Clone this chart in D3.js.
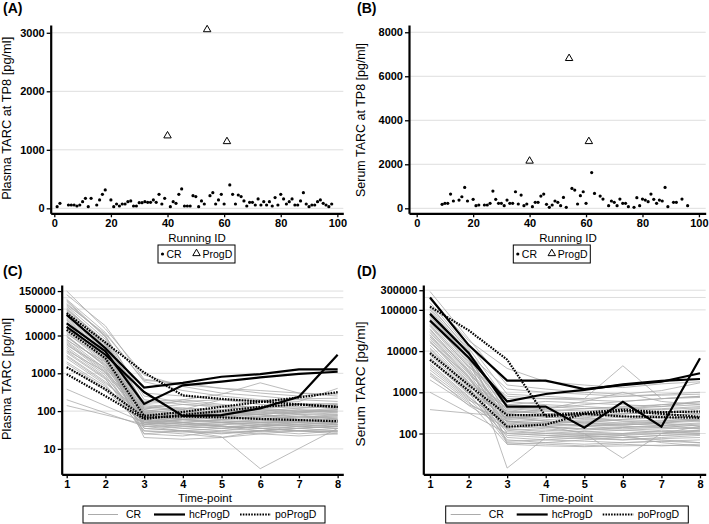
<!DOCTYPE html>
<html><head><meta charset="utf-8">
<script src="https://cdn.jsdelivr.net/npm/d3@7"></script>
<style>body{margin:0;background:#fff}svg{display:block}</style>
</head><body><svg id="c" width="709" height="524"></svg>
<script>
// ---------- DATA ----------
// Panel A: plasma TARC at TP8 by running ID
const plasmaCR = [[1,29],[2,86],[5,57],[6,57],[7,57],[8,40],[9,57],[10,114],[11,171],[12,29],[13,171],[15,57],[16,143],[17,240],[18,314],[20,143],[21,29],[22,74],[23,40],[24,74],[25,74],[26,114],[27,126],[28,40],[29,40],[30,97],[31,97],[32,114],[33,103],[34,103],[35,143],[36,103],[37,240],[38,74],[39,171],[41,29],[42,114],[43,86],[44,240],[45,331],[46,40],[47,40],[48,40],[49,217],[50,200],[51,29],[52,126],[53,74],[55,217],[56,268],[57,74],[58,143],[59,240],[60,74],[62,400],[63,240],[64,74],[65,228],[66,200],[67,126],[68,40],[69,103],[70,103],[71,57],[72,160],[73,57],[74,114],[75,57],[76,114],[77,40],[78,183],[79,57],[80,240],[81,160],[82,74],[83,114],[84,160],[85,57],[86,57],[87,126],[88,268],[89,74],[90,29],[91,57],[92,57],[93,114],[94,143],[95,86],[96,57],[97,29],[98,74]];
const plasmaProgD = [[40,1240],[54,3055],[61,1142]];
// Panel B: serum TARC at TP8 by running ID
const serumCR = [[9,180],[10,226],[11,226],[12,647],[13,331],[15,376],[16,526],[17,948],[18,331],[20,406],[21,120],[22,150],[24,150],[25,150],[26,226],[27,782],[28,406],[29,226],[30,226],[31,120],[32,376],[33,226],[34,226],[35,752],[36,196],[37,602],[38,120],[39,196],[41,75],[42,271],[43,271],[44,556],[45,647],[46,180],[47,45],[48,150],[49,331],[50,271],[51,120],[52,496],[53,45],[55,902],[56,827],[57,196],[58,572],[59,752],[60,226],[62,1624],[63,677],[65,556],[66,421],[68,120],[69,331],[70,271],[71,120],[72,421],[73,226],[74,226],[75,75],[77,45],[78,481],[79,120],[80,421],[81,376],[82,301],[83,647],[84,406],[85,226],[86,376],[87,331],[88,948],[89,75],[91,271],[92,271],[94,421],[96,120]];
const serumProgD = [[40,2150],[54,6813],[61,3038]];

const timePoints = [1,2,3,4,5,6,7,8];
const idTicks = [0,20,40,60,80,100];
const plasmaTP8Ticks = [0,1000,2000,3000];
const serumTP8Ticks = [0,2000,4000,6000,8000];
const plasmaLogTicks = [10,100,1000,10000,50000,150000];
const plasmaLogGrid = [10,100,1000,10000,50000,100000,150000];
const serumLogTicks = [100,1000,10000,100000,300000];
const serumLogGrid = [100,1000,10000,100000,200000,300000];

// Panel C: plasma TARC courses (TP1..TP8), null = missing
const plasmaCRLines = [
[150000,15000,900,450,300,250,200,180],
[90000,12000,600,350,250,200,180,400],
[80000,9000,150,120,100,90,110,100],
[70000,10000,200,150,130,110,100,90],
[60000,8000,120,100,90,80,70,80],
[55000,6000,90,70,60,70,80,60],
[50000,7000,110,80,70,60,55,50],
[45000,5000,80,60,50,55,60,45],
[40000,6000,140,100,80,70,90,110],
[38000,4500,70,60,55,50,45,40],
[35000,5000,100,90,80,100,120,130],
[30000,4000,60,50,45,40,50,55],
[28000,3500,85,75,70,65,60,70],
[25000,3000,50,45,40,35,40,35],
[22000,3800,130,110,90,120,150,140],
[20000,2500,65,70,80,60,55,65],
[18000,2800,75,60,50,45,55,60],
[16000,2200,45,40,35,30,35,30],
[15000,3000,95,80,100,110,90,100],
[13000,2000,55,50,60,70,65,75],
[12000,1800,40,35,30,28,30,25],
[11000,2400,120,150,130,100,80,90],
[10000,1500,60,55,50,45,40,45],
[9000,1700,80,70,90,80,100,120],
[8000,1300,50,60,55,50,50,55],
[7500,2000,180,200,150,120,100,110],
[7000,1200,45,50,40,35,30,35],
[6000,1000,70,60,80,90,85,80],
[5500,1400,100,120,110,130,120,150],
[5000,900,35,30,25,30,35,40],
[4500,800,55,45,50,40,45,50],
[4000,1100,90,110,200,150,130,120],
[3500,700,40,40,45,50,55,60],
[3000,600,65,80,70,60,70,65],
[2500,500,30,25,20,25,30,28],
[2000,450,50,45,40,35,30,30],
[1800,400,75,90,100,80,70,75],
[1500,350,45,60,70,80,60,50],
[380,null,50,40,35,45,40,35],
[200,null,40,30,35,40,45,50],
[140,null,45,35,40,30,35,40],
[120000,18000,700,500,400,300,250,300],
[65000,11000,650,550,400,350,300,250],
[33000,4200,300,250,200,180,160,150],
[26000,3200,20,18,20,30,25,30],
[14000,2600,25,30,21,3,null,35],
[9500,1600,110,200,280,560,300,280],
[48000,6500,160,180,200,190,210,220],
[42000,5500,35,30,28,25,22,25],
[21000,2300,55,65,75,85,95,100],
[17000,2100,70,50,40,35,30,28],
[85000,9500,250,170,140,130,150,160],
[6500,1100,30,28,26,30,40,45],
[3800,750,25,22,30,40,35,40],
[2800,550,85,70,60,55,50,45]
];
const plasmaHcLines = [
[35000,4600,420,560,810,950,1270,1270],
[21000,3800,155,480,600,780,960,1100],
[17000,3100,320,75,78,118,240,3100]
];
const plasmaPoLines = [
[39000,6500,1050,260,210,180,150,128],
[14000,2500,75,95,130,175,230,316],
[1450,380,68,72,68,62,58,54],
[950,250,62,80,100,130,150,130]
];
// Panel D: serum TARC courses
const serumCRLines = [
[280000,20000,1500,1200,1000,900,1100,1700],
[200000,15000,900,800,700,800,900,1000],
[150000,12000,600,500,450,400,500,600],
[130000,10000,400,350,300,350,400,450],
[110000,9000,300,280,250,300,350,300],
[100000,8000,500,600,550,500,450,500],
[90000,7000,250,200,180,220,250,200],
[80000,6500,350,300,250,200,180,220],
[70000,6000,200,180,150,160,180,150],
[60000,5000,450,400,500,600,700,800],
[55000,5500,180,150,120,140,160,130],
[50000,4500,280,250,220,250,280,300],
[45000,4000,150,130,110,100,120,110],
[40000,3500,320,350,400,450,500,550],
[35000,3000,120,100,90,80,90,100],
[30000,3200,220,200,180,170,160,180],
[28000,2800,380,300,280,300,320,350],
[25000,2500,100,90,80,70,75,80],
[22000,2200,160,180,200,220,240,260],
[20000,2000,260,220,200,180,200,230],
[18000,1800,80,70,65,60,65,70],
[16000,2400,140,160,150,130,140,160],
[14000,1600,420,380,350,400,450,600],
[12000,1500,190,170,160,150,140,130],
[10000,1300,70,60,55,60,65,60],
[9000,1200,230,260,280,300,320,400],
[8000,1100,130,120,110,120,130,140],
[7000,1000,60,55,50,55,50,55],
[6000,900,300,250,230,200,210,220],
[5000,800,110,100,95,90,100,120],
[4500,750,170,150,130,120,110,100],
[4000,700,90,80,75,70,80,90],
[3500,650,240,280,300,260,240,250],
[3000,600,55,50,48,50,52,50],
[2500,550,150,140,130,140,150,170],
[2000,500,200,180,160,170,190,210],
[1000,null,100,90,85,80,90,95],
[380,null,255,200,180,160,180,200],
[180000,18000,3800,1800,1500,1300,1600,1800],
[65000,7500,14.5,80,90,100,110,120],
[120000,11000,55,60,70,80,70,60],
[75000,6800,700,700,700,4400,700,800],
[33000,3300,200,150,100,25,100,150],
[24000,2300,300,400,600,1000,600,500],
[11000,1400,65,70,80,90,60,50],
[85000,8500,1200,1000,900,800,850,900],
[42000,4200,800,700,650,600,700,750],
[17000,1700,500,450,400,420,380,420],
[6500,950,350,300,280,260,270,300],
[2800,480,130,110,100,95,100,110]
];
const serumHcLines = [
[200000,14000,1920,1920,1200,1500,1800,2900],
[55000,7000,600,910,1150,1550,1900,2100],
[80000,9000,450,450,139,590,146,6700]
];
const serumPoLines = [
[120000,32000,6200,260,300,350,300,255],
[8900,1500,280,280,320,380,330,340],
[6100,1100,146,165,300,260,250,240]
];

// ---------- DRAWING ----------
const FONT = '"Liberation Sans", Arial, Helvetica, sans-serif';
const svg = d3.select("#c").style("font-family", FONT);
const GRID = "#dedede", GRAY = "#ababab";

function panelLabel(x, y, t) {
  svg.append("text").attr("x", x).attr("y", y).attr("font-size", 14).attr("font-weight", "bold").text(t);
}
function yTitle(cx, cy, len, t) {
  svg.append("text").attr("transform", `translate(${cx},${cy}) rotate(-90)`)
    .attr("text-anchor", "middle").attr("font-size", 12.5)
    .attr("textLength", len).attr("lengthAdjust", "spacingAndGlyphs").text(t);
}
function xTitle(cx, y, t) {
  svg.append("text").attr("x", cx).attr("y", y).attr("text-anchor", "middle").attr("font-size", 11.5).text(t);
}
function grid(x, y, vals) {
  const [x0, x1] = x.range();
  svg.append("g").selectAll("line").data(vals).join("line")
    .attr("x1", x0).attr("x2", x1).attr("y1", d => y(d)).attr("y2", d => y(d))
    .attr("stroke", GRID).attr("stroke-width", 1);
}
function axes(x, y, xTicks, yTicks) {
  const [x0] = x.range();
  const [yb] = y.range();
  const gy = svg.append("g").attr("transform", `translate(${x0},0)`)
    .call(d3.axisLeft(y).tickValues(yTicks).tickSize(4).tickSizeOuter(0).tickPadding(2).tickFormat(d3.format("d")));
  const gx = svg.append("g").attr("transform", `translate(0,${yb})`)
    .call(d3.axisBottom(x).tickValues(xTicks).tickSize(4).tickSizeOuter(0).tickPadding(2).tickFormat(d3.format("d")));
  [gx, gy].forEach(g => {
    g.select(".domain").attr("stroke", "#000").attr("stroke-width", 2.2);
    g.selectAll(".tick line").attr("stroke", "#000").attr("stroke-width", 1.3);
    g.selectAll(".tick text").attr("font-size", 11).attr("font-weight", "bold").attr("font-family", FONT).attr("fill", "#000");
  });
}

// Scatter panels
function scatterPanel(o) {
  const x = d3.scaleLinear().domain(o.xd).range(o.xr);
  const y = d3.scaleLinear().domain(o.yd).range(o.yr);
  grid(x, y, o.yTicks);
  axes(x, y, idTicks, o.yTicks);
  svg.append("g").selectAll("circle").data(o.cr).join("circle")
    .attr("cx", d => x(d[0])).attr("cy", d => y(d[1])).attr("r", 1.6).attr("fill", "#000");
  const tri = d3.symbol().type(d3.symbolTriangle).size(24);
  svg.append("g").selectAll("path").data(o.pd).join("path")
    .attr("d", tri).attr("transform", d => `translate(${x(d[0])},${y(d[1])})`)
    .attr("fill", "none").attr("stroke", "#000").attr("stroke-width", 1);
  // legend
  const L = o.leg;
  svg.append("rect").attr("x", L.x).attr("y", 245).attr("width", L.w).attr("height", 18)
    .attr("fill", "#fff").attr("stroke", "#000").attr("stroke-width", 1);
  svg.append("circle").attr("cx", L.x + 4.5).attr("cy", 254).attr("r", 1.6).attr("fill", "#000");
  svg.append("text").attr("x", L.x + 8.5).attr("y", 258).attr("font-size", 10.5).text("CR");
  svg.append("path").attr("d", tri).attr("transform", `translate(${L.x + 38.5},253.5)`)
    .attr("fill", "none").attr("stroke", "#000").attr("stroke-width", 1);
  svg.append("text").attr("x", L.x + 44.5).attr("y", 258).attr("font-size", 10.5).text("ProgD");
}

scatterPanel({xd: [-1.27, 102.1], xr: [50.7, 343.3], yd: [-85, 3133], yr: [213.3, 25],
  yTicks: plasmaTP8Ticks, cr: plasmaCR, pd: plasmaProgD, leg: {x: 158, w: 77}});
scatterPanel({xd: [-2.73, 102.4], xr: [409, 705.7], yd: [-227, 8330], yr: [213.3, 25],
  yTicks: serumTP8Ticks, cr: serumCR, pd: serumProgD, leg: {x: 513.3, w: 77}});

panelLabel(3, 13, "(A)");
panelLabel(357, 13, "(B)");
yTitle(11, 118.3, 163, "Plasma TARC at TP8 [pg/ml]");
yTitle(365, 120, 154, "Serum TARC at TP8 [pg/ml]");
xTitle(197, 242, "Running ID");
xTitle(568, 242, "Running ID");

// Line panels
function linePanel(o) {
  const x = d3.scaleLinear().domain(o.xd).range(o.xr);
  const y = d3.scaleLog().domain(o.yd).range(o.yr);
  grid(x, y, o.grid);
  const line = d3.line().x(d => x(d.t)).y(d => y(d.v));
  const toPts = vals => vals.map((v, i) => ({t: timePoints[i], v})).filter(d => d.v != null);
  const g = svg.append("g");
  g.selectAll(".cr").data(o.cr).join("path").attr("d", d => line(toPts(d)))
    .attr("fill", "none").attr("stroke", GRAY).attr("stroke-width", 0.8);
  g.selectAll(".po").data(o.po).join("path").attr("d", d => line(toPts(d)))
    .attr("fill", "none").attr("stroke", "#000").attr("stroke-width", 2.2).attr("stroke-dasharray", "1.6,1.2");
  g.selectAll(".hc").data(o.hc).join("path").attr("d", d => line(toPts(d)))
    .attr("fill", "none").attr("stroke", "#000").attr("stroke-width", 2.2);
  axes(x, y, timePoints, o.ticks);
  // legend
  const L = o.leg;
  svg.append("rect").attr("x", L.x).attr("y", 506).attr("width", L.w).attr("height", 17)
    .attr("fill", "#fff").attr("stroke", "#000").attr("stroke-width", 1);
  const ly = 514.5;
  svg.append("line").attr("x1", L.x + 5).attr("x2", L.x + 35).attr("y1", ly).attr("y2", ly).attr("stroke", GRAY).attr("stroke-width", 1);
  svg.append("text").attr("x", L.x + 43).attr("y", ly + 3.8).attr("font-size", 10.5).text("CR");
  svg.append("line").attr("x1", L.x + 71).attr("x2", L.x + 102).attr("y1", ly).attr("y2", ly).attr("stroke", "#000").attr("stroke-width", 2.2);
  svg.append("text").attr("x", L.x + 106).attr("y", ly + 3.8).attr("font-size", 10.5).text("hcProgD");
  svg.append("line").attr("x1", L.x + 157).attr("x2", L.x + 188).attr("y1", ly).attr("y2", ly).attr("stroke", "#000").attr("stroke-width", 2.2).attr("stroke-dasharray", "1.6,1.2");
  svg.append("text").attr("x", L.x + 192).attr("y", ly + 3.8).attr("font-size", 10.5).text("poProgD");
}

linePanel({xd: [0.871, 8.146], xr: [61.7, 343.3], yd: [Math.pow(10, 0.328), Math.pow(10, 5.336)], yr: [474.3, 285],
  ticks: plasmaLogTicks, grid: plasmaLogGrid, cr: plasmaCRLines, hc: plasmaHcLines, po: plasmaPoLines, leg: {x: 83, w: 242}});
linePanel({xd: [0.826, 8.148], xr: [423.3, 705.7], yd: [Math.pow(10, 1.01), Math.pow(10, 5.604)], yr: [474.3, 285],
  ticks: serumLogTicks, grid: serumLogGrid, cr: serumCRLines, hc: serumHcLines, po: serumPoLines, leg: {x: 445.7, w: 242.6}});

panelLabel(3, 276, "(C)");
panelLabel(357, 276, "(D)");
yTitle(11, 379, 122, "Plasma TARC [pg/ml]");
yTitle(365, 384, 125, "Serum TARC [pg/ml]");
xTitle(205, 502, "Time-point");
xTitle(566, 502, "Time-point");
</script></body></html>
